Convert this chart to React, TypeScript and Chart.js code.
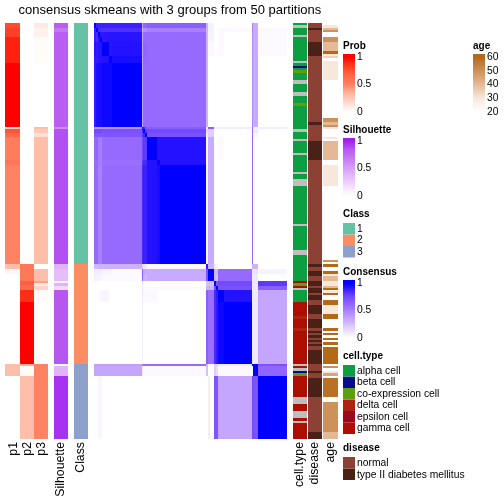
import React, { useEffect, useRef } from "react";
import { Chart, registerables } from "chart.js";

Chart.register(...registerables);

const title = "consensus skmeans with 3 groups from 50 partitions";

// Sample order breakpoints (rank along the consensus matrix, 0..416)
const blockEnds = [0, 5, 9, 14, 19, 33, 40, 104, 106, 110, 114, 137, 142, 241, 246, 251, 258, 263, 267, 279, 341, 343, 353, 416];

// Consensus values per block (rows by columns)
const consensus: number[][] = [
  [1, .88, .88, .88, .88, .88, .88, .35, .62, .62, .65, .65, .65, .3, .06, .06, 0, 0, 0, 0, .5, .33, 0],
  [.88, 1, .84, .84, .83, .83, .83, .3, .45, .45, .5, .5, .5, .3, .06, .06, 0, 0, .03, .03, .5, .33, .03],
  [.88, .85, 1, .91, .91, .92, .92, .35, .6, .6, .6, .6, .6, .3, .05, .05, 0, 0, .02, 0, .45, .33, .02],
  [.88, .85, .91, 1, .91, .92, .92, .35, .6, .6, .6, .6, .6, .3, .05, .05, 0, 0, .02, 0, .45, .33, .02],
  [.92, .9, .92, .92, 1, .92, .93, .35, .62, .62, .6, .6, .6, .3, .03, .03, 0, 0, .02, 0, .45, .33, .02],
  [.9, .9, .92, .92, .93, 1, .95, .35, .62, .62, .6, .6, .6, .3, 0, 0, 0, 0, 0, 0, .45, .33, 0],
  [.9, .94, .95, .95, .97, .97, 1, .35, .6, .6, .6, .6, .6, .3, 0, 0, 0, 0, 0, 0, .45, .33, 0],
  [.42, .42, .42, .42, .42, .42, .42, 1, .85, .7, .65, .65, .65, .1, .65, .65, .08, .08, .08, .08, .6, .08, .08],
  [.75, .75, .75, .75, .72, .72, .72, .85, 1, .8, .75, .75, .75, .15, .2, .2, 0, 0, 0, 0, .6, .1, 0],
  [.7, .7, .7, .7, .7, .7, .7, .8, .85, 1, .72, .72, .72, .1, .2, .2, 0, 0, 0, 0, .6, .05, 0],
  [.6, .62, .52, .52, .6, .6, .6, .75, .8, .8, 1, .93, .93, .03, .33, .33, 0, 0, .02, 0, .6, 0, 0],
  [.58, .6, .52, .52, .58, .58, .58, .8, .85, .85, .93, 1, .93, .03, .33, .33, 0, 0, 0, 0, .6, 0, 0],
  [.6, .6, .5, .5, .6, .6, .6, .85, .88, .88, .93, .95, 1, .03, .33, .33, 0, 0, 0, 0, .6, 0, 0],
  [.28, .28, .3, .3, .3, .3, .3, .2, .1, .1, .03, .03, .03, .9, .3, .3, .1, .05, 0, 0, .3, .3, 0],
  [.08, .08, .08, .08, .05, .05, .02, .65, .35, .33, .33, .33, .33, .7, 1, 1, .3, .3, .6, .6, .12, .12, .05],
  [.06, .06, .05, .05, .03, .03, .02, .65, .3, .3, .33, .33, .33, .7, 1, 1, .3, .25, .6, .6, .1, .1, 0],
  [0, 0, 0, 0, 0, 0, 0, .1, 0, 0, 0, 0, 0, .25, .25, .25, 1, .7, .75, .75, .1, .1, .8],
  [0, 0, 0, 0, 0, 0, 0, .1, .02, .02, .02, .02, .02, .3, .3, .3, .75, 1, .72, .72, .1, .1, .65],
  [0, 0, .03, .03, .04, 0, 0, .1, .03, .03, .03, 0, 0, .65, .58, .58, .85, .9, 1, .93, .1, .1, .35],
  [0, 0, 0, 0, 0, 0, 0, .08, 0, 0, 0, 0, 0, .65, .58, .58, .85, .9, .97, 1, .1, .1, .35],
  [.38, .38, .38, .38, .38, .38, .38, .5, .6, .6, .6, .6, .6, .3, .05, .05, .2, .2, .1, .1, 1, 1, .72],
  [.35, .35, .35, .35, .35, .35, .35, .1, .03, .03, .03, .03, .03, .25, 0, 0, .2, .15, .03, .03, .05, 1, .62],
  [0, 0, .04, .04, 0, 0, 0, 0, 0, 0, 0, 0, 0, 0, .08, 0, .7, .7, .35, .35, .75, .72, 1],
];

// Annotation columns: segment ends (rank) and values
const p1Ends = [5, 14, 40, 104, 106, 110, 114, 137, 142, 241, 246, 251, 341, 353, 416];
const p1Vals = [.78, .82, .92, 1, .2, .75, .65, .53, .56, .5, .3, .04, 0, .3, 0];
const p2Ends = [241, 258, 262, 267, 279, 341, 343, 353, 416];
const p2Vals = [0, .55, .7, .62, .88, 1, .35, .02, .3];
const p3Ends = [5, 14, 40, 104, 106, 110, 114, 241, 246, 258, 260, 263, 267, 279, 341, 416];
const p3Vals = [.1, .06, .02, 0, .3, .25, .15, .3, 0, .3, .4, .1, .2, .02, 0, .5];
const silEnds = [5, 9, 104, 106, 241, 246, 258, 260, 263, 267, 341, 343, 353, 416];
const silVals = [.82, .7, .82, .6, .87, .4, .35, .05, .4, .2, .85, 0, .4, .95];
const classEnds = [241, 341, 416];
const classVals = [1, 2, 3];

const cellEnds = [2, 5, 12, 14, 38, 40, 43, 45, 47, 50, 57, 61, 69, 73, 80, 83, 106, 109, 116, 118, 130, 132, 149, 151, 156, 163, 201, 203, 227, 232, 258, 260, 263, 265, 267, 279, 293, 296, 305, 308, 341, 343, 345, 348, 350, 353, 374, 381, 388, 395, 398, 400, 416];
const cellVals = ["a", "n", "a", "n", "a", "n", "a", "b", "a", "c", "a", "n", "a", "n", "a", "c", "a", "n", "a", "n", "a", "n", "a", "n", "a", "n", "a", "n", "a", "n", "a", "g", "c", "g", "n", "a", "g", "d", "g", "d", "g", "n", "g", "n", "b", "c", "g", "n", "g", "n", "g", "n", "g"];

const diseaseEnds = [5, 7, 19, 33, 99, 102, 118, 137, 241, 244, 248, 253, 258, 263, 265, 270, 272, 277, 282, 291, 296, 305, 308, 310, 312, 315, 317, 319, 321, 323, 327, 341, 348, 350, 355, 374, 409, 416];
const diseaseVals = [0, 1, 0, 1, 0, 1, 0, 1, 0, 1, 0, 1, 0, 1, 0, 1, 0, 1, 0, 1, 0, 1, 0, 1, 0, 1, 0, 1, 0, 1, 0, 1, 0, 1, 0, 1, 0, 1];

const ageEnds = [2, 5, 7, 9, 14, 19, 28, 31, 33, 35, 38, 57, 95, 99, 102, 104, 106, 114, 116, 118, 137, 142, 163, 237, 239, 241, 244, 248, 251, 253, 258, 263, 265, 267, 270, 272, 277, 282, 291, 296, 305, 308, 310, 312, 315, 317, 319, 322, 324, 327, 341, 343, 345, 348, 350, 353, 355, 374, 379, 409, 416];
const ageVals = [null, 30, 40, 50, null, 50, 40, 60, 30, 35, null, 30, null, 50, 40, 50, 30, null, 30, null, 40, null, 30, null, 50, null, 60, null, 60, 30, 40, 30, 40, 60, 30, 60, null, 60, 30, 60, null, 60, null, 60, null, 60, null, 60, null, 60, 60, null, 50, null, 30, 45, null, 58, null, 50, 40];

const classLabels = ["1", "2", "3"];
const cellLabels = ["alpha cell", "beta cell", "co-expression cell", "delta cell", "epsilon cell", "gamma cell"];
const diseaseLabels = ["normal", "type II diabetes mellitus"];
const ageTicks = [60, 50, 40, 30, 20];
const unitTicks = [1, 0.5, 0];

const classColors = ["#66C2A5", "#FC8D62", "#8DA0CB"];
const cellColors: Record<string, string> = { a: "#0C9F42", b: "#0A0A8F", c: "#5AA00F", d: "#AE2410", e: "#9A0A1E", g: "#AE0E00", n: "#BEBEBE" };
const cellKeys = ["a", "b", "c", "d", "e", "g"];
const diseaseColors = ["#8B4234", "#4A2116"];

type Stop = [number, number, number, number];
const ramp = (stops: Stop[]) => (v: number) => {
  let i = 0;
  while (i < stops.length - 2 && v > stops[i + 1][0]) i++;
  const [a, b] = [stops[i], stops[i + 1]];
  const t = Math.max(0, Math.min(1, (v - a[0]) / (b[0] - a[0])));
  const c = [1, 2, 3].map((k) => Math.round(a[k] + (b[k] - a[k]) * t));
  return `rgb(${c[0]},${c[1]},${c[2]})`;
};
const probColor = ramp([[0, 255, 255, 255], [.3, 255, 190, 170], [.5, 255, 130, 98], [.75, 255, 85, 55], [.9, 255, 40, 20], [1, 255, 0, 0]]);
const silColor = ramp([[0, 255, 255, 255], [.4, 225, 180, 250], [.85, 182, 88, 240], [1, 160, 32, 240]]);
const consColor = ramp([[0, 255, 255, 255], [.1, 240, 232, 255], [.33, 200, 170, 255], [.6, 150, 105, 255], [.75, 115, 75, 255], [.9, 50, 25, 255], [1, 0, 0, 255]]);
const ageColor = ramp([[20, 255, 255, 255], [30, 248, 232, 220], [40, 230, 185, 150], [50, 205, 145, 90], [60, 180, 105, 25]]);

// Scale window: y values are sample ranks, legend furniture sits on the same scale
const Y_MIN = -23;
const Y_MAX = 481;
const HM_LEFT = 93.5;
const HM_SCALE = 0.466;
const py = (pixel: number) => pixel + Y_MIN;

function column(left: number, right: number, ends: number[], colors: (string | null)[]) {
  const data: any[] = [];
  const bg: string[] = [];
  let lo = 0;
  ends.forEach((end, i) => {
    const c = colors[i];
    if (c) {
      data.push({ x: (left + right) / 2, y: [lo, end] });
      bg.push(c);
    }
    lo = end;
  });
  return {
    type: "bar" as const,
    data,
    backgroundColor: bg,
    barThickness: right - left,
    grouped: false,
    borderWidth: 0,
    inflateAmount: 0,
  };
}

function rampColumn(left: number, right: number, top: number, zero: number, color: (f: number) => string) {
  // f = 1 at `top`, 0 at `zero`; three pixels of full colour sit above it
  const ends: number[] = [];
  const cols: string[] = [];
  const start = top - 3;
  for (let p = start; p < zero; p++) {
    ends.push(py(p + 1));
    cols.push(color(Math.max(0, Math.min(1, (zero - p - 0.5) / (zero - top)))));
  }
  const ds = column(left, right, ends, cols);
  ds.data.forEach((d: any, i: number) => {
    d.y = [py(start + i), py(start + i + 1)];
  });
  return ds;
}

function tickMarks(left: number, right: number, ys: number[]) {
  return [left + 1.5, right - 1.5].map((cx) => ({
    type: "bar" as const,
    data: ys.map((y) => ({ x: cx, y: [py(y) - 0.5, py(y) + 0.5] })),
    backgroundColor: "rgba(255,255,255,0.85)",
    barThickness: 3,
    grouped: false,
    borderWidth: 0,
    inflateAmount: 0,
  }));
}

function swatches(left: number, right: number, top: number, h: number, colors: string[]) {
  return colors.map((c, i) => ({
    type: "bar" as const,
    data: [{ x: (left + right) / 2, y: [py(top + i * h), py(top + (i + 1) * h)] }],
    backgroundColor: c,
    barThickness: right - left,
    grouped: false,
    borderWidth: 0,
    inflateAmount: 0,
  }));
}

function buildDatasets() {
  const ds: any[] = [];
  ds.push(column(5, 20, p1Ends, p1Vals.map(probColor)));
  ds.push(column(20, 34, p2Ends, p2Vals.map(probColor)));
  ds.push(column(34, 48, p3Ends, p3Vals.map(probColor)));
  ds.push(column(54, 68, silEnds, silVals.map(silColor)));
  ds.push(column(74, 88, classEnds, classVals.map((c) => classColors[c - 1])));

  const xEdge = (r: number) => Math.round(HM_LEFT + r * HM_SCALE);
  for (let j = 0; j < blockEnds.length - 1; j++) {
    const ends = blockEnds.slice(1);
    ds.push(column(xEdge(blockEnds[j]), xEdge(blockEnds[j + 1]), ends, consensus.map((row) => consColor(row[j]))));
  }

  ds.push(column(293, 307, cellEnds, cellVals.map((k) => cellColors[k])));
  ds.push(column(308, 322, diseaseEnds, diseaseVals.map((v) => diseaseColors[v])));
  ds.push(column(323, 338, ageEnds, ageVals.map((v) => (v === null ? null : ageColor(v)))));

  ds.push(rampColumn(343, 355, 57, 112, probColor));
  ds.push(...tickMarks(343, 355, [57, 84.5]));
  ds.push(rampColumn(473, 485, 57, 112, (f) => ageColor(20 + f * 40)));
  ds.push(...tickMarks(473, 485, [57, 71, 84.5, 98]));
  ds.push(rampColumn(343, 355, 141, 196, silColor));
  ds.push(...tickMarks(343, 355, [141, 168.5]));
  ds.push(rampColumn(343, 355, 283, 338, consColor));
  ds.push(...tickMarks(343, 355, [283, 310.5]));

  ds.push(...swatches(343, 355, 223, 11.5, classColors));
  ds.push(...swatches(343, 355, 365, 11.5, cellKeys.map((k) => cellColors[k])));
  ds.push(...swatches(343, 355, 457, 11.5, diseaseColors));
  return ds;
}

const FONT = '"Liberation Sans", Arial, sans-serif';
const bottomLabels: [string, number][] = [["p1", 14], ["p2", 28], ["p3", 42], ["Silhouette", 61], ["Class", 81], ["cell.type", 300], ["disease", 315], ["age", 331]];
const legendTitles: [string, number, number][] = [["Prob", 343, 46], ["age", 473, 46], ["Silhouette", 343, 130], ["Class", 343, 214], ["Consensus", 343, 272], ["cell.type", 343, 356], ["disease", 343, 448]];

const textPlugin = {
  id: "heatmapText",
  afterDraw(chart: any) {
    const ctx: CanvasRenderingContext2D = chart.ctx;
    ctx.save();
    ctx.fillStyle = "#000";
    ctx.textBaseline = "middle";
    ctx.textAlign = "left";
    ctx.font = `13px ${FONT}`;
    ctx.fillText(title, 18.5, 10);

    ctx.font = `bold 10px ${FONT}`;
    legendTitles.forEach(([t, x, y]) => ctx.fillText(t, x, y));

    ctx.font = `10.3px ${FONT}`;
    const put = (t: string, x: number, y: number) => ctx.fillText(t, x, y);
    unitTicks.forEach((t, i) => {
      const s = String(t);
      put(s, 357, 57 + i * 27.5);
      put(s, 357, 141 + i * 27.5);
      put(s, 357, 283 + i * 27.5);
    });
    ageTicks.forEach((t, i) => put(String(t), 487, 57 + i * 13.75));
    classLabels.forEach((t, i) => put(t, 357, 229 + i * 11.5));
    cellLabels.forEach((t, i) => put(t, 357, 371 + i * 11.5));
    diseaseLabels.forEach((t, i) => put(t, 357, 463 + i * 11.7));

    ctx.font = `12.3px ${FONT}`;
    bottomLabels.forEach(([t, x]) => {
      ctx.save();
      ctx.translate(x, 442);
      ctx.rotate(-Math.PI / 2);
      ctx.textAlign = "right";
      ctx.fillText(t, 0, 0);
      ctx.restore();
    });
    ctx.restore();
  },
};

export default function App() {
  const ref = useRef<HTMLCanvasElement>(null);
  useEffect(() => {
    document.body.style.margin = "0";
    const chart = new Chart(ref.current!, {
      type: "bar",
      data: { datasets: buildDatasets() },
      options: {
        animation: false,
        responsive: false,
        events: [],
        layout: { padding: 0 },
        plugins: { legend: { display: false }, tooltip: { enabled: false }, title: { display: false } },
        scales: {
          x: { type: "linear", min: 0, max: 504, display: false, offset: false },
          y: { type: "linear", min: Y_MIN, max: Y_MAX, reverse: true, display: false },
        },
      },
      plugins: [textPlugin],
    } as any);
    return () => chart.destroy();
  }, []);
  return <canvas ref={ref} width={504} height={504} style={{ display: "block" }} />;
}
